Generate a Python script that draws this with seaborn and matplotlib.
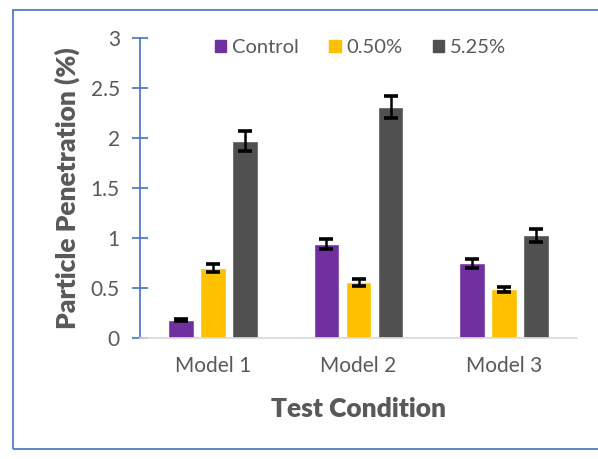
import matplotlib
matplotlib.use("Agg")
import matplotlib.pyplot as plt
import matplotlib.patches as mpatches
import pandas as pd
import seaborn as sns

models = ['Model 1', 'Model 2', 'Model 3']
groups = ['Control', '0.50%', '5.25%']
control = [0.18, 0.94, 0.75]
control_err = [0.01, 0.05, 0.045]
low_conc = [0.70, 0.56, 0.49]
low_err = [0.04, 0.035, 0.025]
high_conc = [1.97, 2.31, 1.03]
high_err = [0.10, 0.11, 0.065]
colors = ['#7030A0', '#FFC000', '#505050']

rows = []
for g, vals, errs in zip(groups, [control, low_conc, high_conc],
                         [control_err, low_err, high_err]):
    for m, v, e in zip(models, vals, errs):
        rows.append({'model': m, 'group': g, 'value': v, 'err': e})
df = pd.DataFrame(rows)

sns.set_style('white')
plt.rcParams['font.family'] = ['Lato', 'DejaVu Sans']

fig = plt.figure(figsize=(5.98, 4.59), dpi=100)
ax = fig.add_axes([140 / 598, 121 / 459, 437 / 598, 300 / 459])

sns.barplot(data=df, x='model', y='value', hue='group', hue_order=groups,
            order=models, palette=colors, width=0.66, gap=0.2,
            errorbar=None, saturation=1, ax=ax, legend=False)

# error bars at bar centres
bars = [p for p in ax.patches]
for i, g in enumerate(groups):
    sub = df[df.group == g].set_index('model').loc[models]
    for j, m in enumerate(models):
        p = bars[i * len(models) + j]
        xc = p.get_x() + p.get_width() / 2
        ax.errorbar(xc, sub.loc[m, 'value'], yerr=sub.loc[m, 'err'],
                    fmt='none', ecolor='black', elinewidth=1.8,
                    capsize=4.8, capthick=2.6)

ax.set_xlim(-0.5, 2.5)
ax.set_ylim(0, 3)
ax.set_yticks([0, 0.5, 1, 1.5, 2, 2.5, 3])
ax.set_yticklabels(['0', '0.5', '1', '1.5', '2', '2.5', '3'])

for s in ['top', 'right']:
    ax.spines[s].set_visible(False)
ax.spines['left'].set_color('#4472C4')
ax.spines['left'].set_linewidth(1.2)
ax.spines['bottom'].set_color('#D9D9D9')
ax.spines['bottom'].set_linewidth(1.2)

ax.tick_params(axis='y', direction='inout', length=11, width=1.2,
               color='#4472C4', labelcolor='#595959', labelsize=15, pad=9,
               left=True)
ax.tick_params(axis='x', length=0, labelcolor='#595959', labelsize=15, pad=13)

ax.set_xlabel('Test Condition', fontsize=19, fontweight='heavy',
              color='#595959', labelpad=15)
ax.set_ylabel('Particle Penetration (%)', fontsize=19, fontweight='heavy',
              color='#595959', labelpad=8)

handles = [mpatches.Patch(color=c, label=g) for c, g in zip(colors, groups)]
ax.legend(handles=handles, ncol=3, frameon=False, loc='center',
          bbox_to_anchor=(0.505, 0.967), fontsize=14.5, labelcolor='#595959',
          handlelength=0.55, handleheight=0.55, handletextpad=0.3,
          columnspacing=1.5)

# outer chart border
fig.patches.append(mpatches.Rectangle((13 / 598, 10 / 459), 590 / 598, 439 / 459,
                                      transform=fig.transFigure, fill=False,
                                      edgecolor='#4472C4', linewidth=1.2))

fig.savefig('out.png', dpi=100)
